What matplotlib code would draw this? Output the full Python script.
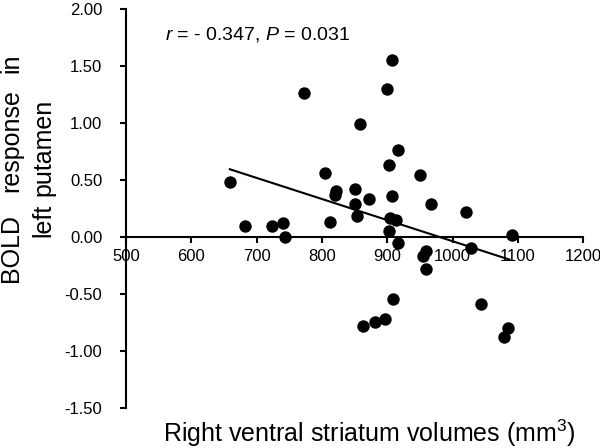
import matplotlib.pyplot as plt

plt.rcParams['font.family'] = ['Liberation Sans', 'DejaVu Sans']
plt.rcParams['mathtext.fontset'] = 'custom'
plt.rcParams['mathtext.rm'] = 'Liberation Sans'
plt.rcParams['mathtext.it'] = 'Liberation Sans:italic'

# right ventral striatum volume (mm3) vs BOLD response in left putamen
volume = [659, 682, 724, 741, 743, 773, 805, 812, 821, 820,
          851, 850, 854, 859, 872, 863, 881, 897, 899, 902,
          902, 904, 908, 908, 909, 914, 917, 917, 950, 959,
          954, 960, 967, 1020, 1028, 1043, 1085, 1078, 1091]
bold = [0.48, 0.10, 0.10, 0.12, 0.00, 1.26, 0.56, 0.13, 0.40, 0.37,
        0.42, 0.29, 0.18, 0.99, 0.33, -0.78, -0.75, -0.72, 1.30, 0.63,
        0.05, 0.17, 1.55, 0.36, -0.54, 0.15, 0.76, -0.05, 0.54, -0.12,
        -0.17, -0.28, 0.29, 0.22, -0.10, -0.59, -0.80, -0.88, 0.02]

# regression line end points
fit_x = [659, 1087]
fit_y = [0.594, -0.198]

xticks = [500, 600, 700, 800, 900, 1000, 1100, 1200]
yticks = [-1.5, -1.0, -0.5, 0.0, 0.5, 1.0, 1.5, 2.0]


def main_function():
    fig = plt.figure(figsize=(6, 4.48), dpi=100)
    ax = fig.add_axes([0.21, 0.0893, 0.762, 0.8907])

    ax.scatter(volume, bold, s=80, color='black', zorder=3, linewidths=0)
    ax.plot(fit_x, fit_y, color='black', linewidth=1.5)

    ax.set_xlim(500, 1200)
    ax.set_ylim(-1.5, 2.0)
    ax.set_xticks(xticks)
    ax.set_yticks(yticks)
    ax.set_yticklabels(['%.2f' % v for v in yticks])

    ax.spines['top'].set_visible(False)
    ax.spines['right'].set_visible(False)
    ax.spines['bottom'].set_position(('data', 0))
    ax.spines['bottom'].set_linewidth(1.5)
    ax.spines['left'].set_linewidth(1.5)
    ax.tick_params(axis='both', direction='out', width=1.5, labelsize=12)
    ax.tick_params(axis='y', length=4, pad=13)
    ax.tick_params(axis='x', length=4.5, pad=4)

    ax.text(560, 1.78, r'$r$ = - 0.347, $P$ = 0.031', fontsize=14, va='center', ha='left')

    # y label, words spread across two lines
    fs = 18
    fig.text(11 / 600, 1 - 248 / 448, 'BOLD', rotation=90, fontsize=fs, ha='center', va='center')
    fig.text(11 / 600, 1 - 141 / 448, 'response', rotation=90, fontsize=fs, ha='center', va='center')
    fig.text(11 / 600, 1 - 63 / 448, 'in', rotation=90, fontsize=fs, ha='center', va='center')
    fig.text(43 / 600, 1 - 220 / 448, 'left', rotation=90, fontsize=fs, ha='center', va='center')
    fig.text(43 / 600, 1 - 147 / 448, 'putamen', rotation=90, fontsize=fs, ha='center', va='center')

    fig.text(369 / 600, 1 - 433 / 448, 'Right ventral striatum volumes (mm$^3$)', fontsize=18,
             ha='center', va='center')

    plt.savefig('out.png', format='png', dpi=100)


if __name__ == '__main__':
    main_function()
